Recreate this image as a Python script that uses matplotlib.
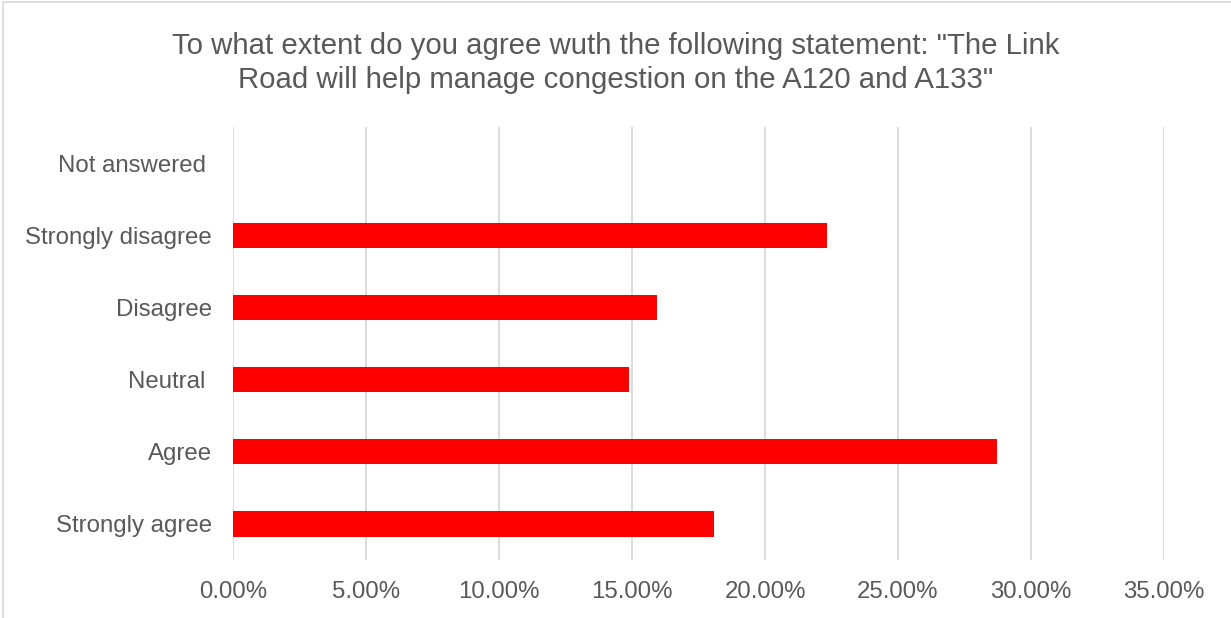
import matplotlib
matplotlib.use("Agg")
import matplotlib.pyplot as plt
from matplotlib.patches import Rectangle
from matplotlib.ticker import FuncFormatter, MultipleLocator

categories = ["Strongly agree", "Agree", "Neutral ", "Disagree", "Strongly disagree", "Not answered "]
values = [18.09, 28.71, 14.89, 15.95, 22.33, 0.0]
title = 'To what extent do you agree wuth the following statement: "The Link\nRoad will help manage congestion on the A120 and A133"'

plt.rcParams['font.family'] = ['Liberation Sans', 'DejaVu Sans']
text_color = '#595959'
grid_color = '#d9d9d9'

fig = plt.figure(figsize=(12.31, 6.18), dpi=100)
ax = fig.add_axes([233/1231, 1-560/618, (1164-233)/1231, (560-127)/618])

y = list(range(len(categories)))
ax.barh(y, values, height=0.35, color='#ff0000', zorder=3)
ax.set_yticks(y)
ax.set_yticklabels(categories)
ax.set_ylim(-0.5, len(categories)-0.5)
ax.set_xlim(0, 35)
ax.xaxis.set_major_locator(MultipleLocator(5))
ax.xaxis.set_major_formatter(FuncFormatter(lambda v, p: f"{v:.2f}%"))
ax.grid(axis='x', color=grid_color, linewidth=1.3, zorder=0)
for s in ax.spines.values():
    s.set_visible(False)
ax.tick_params(axis='both', length=0, labelsize=17.3, colors=text_color)
ax.tick_params(axis='y', pad=15)
ax.tick_params(axis='x', pad=15)

fig.text(0.5, 1-63/618, title, ha='center', va='center', fontsize=21.2,
         color=text_color, linespacing=1.31)

fig.patches.append(Rectangle((3/1231, -0.1), 1.2, 1-2/618+0.1, transform=fig.transFigure,
                             fill=False, edgecolor='#d9d9d9', linewidth=1.2))

fig.savefig("out.png", dpi=100)
